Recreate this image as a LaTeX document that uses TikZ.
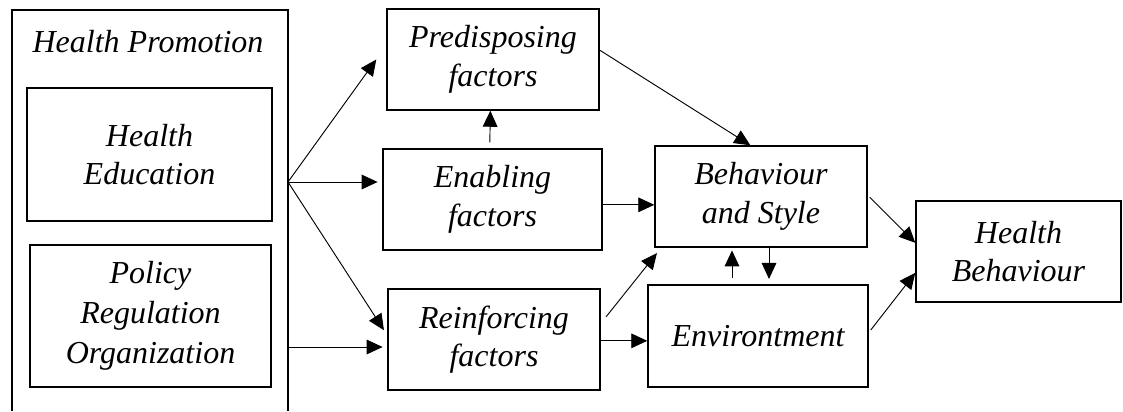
\documentclass[tikz,border=0pt]{standalone}
\usepackage{fontspec}
\setmainfont{Liberation Serif}
\usetikzlibrary{arrows.meta}
\begin{document}
\begin{tikzpicture}[x=0.75pt,y=-0.75pt,
  txt/.style={inner sep=0pt, align=center, font=\fontsize{24}{29}\selectfont\itshape},
  box/.style={txt, draw, line width=1.1pt},
  arr/.style={-{Triangle[length=12pt,width=11pt]}, line width=0.7pt}]
\useasboundingbox (0,0) rectangle (1123,411);

% outer Health Promotion frame (open at the bottom)
\coordinate (hpbl) at (12,411);
\coordinate (hptl) at (12,10);
\coordinate (hptr) at (288,10);
\coordinate (hpbr) at (288,411);
\draw[line width=1.1pt] (hpbl) -- (hptl) -- (hptr) -- (hpbr);
\node[txt] (hp) at (148,42) {Health Promotion};

\node[box, minimum width={245*0.75pt}, minimum height={133*0.75pt}] (he) at (149.5,154.5) {Health\\Education};
\node[box, minimum width={241*0.75pt}, minimum height={142*0.75pt}, font=\fontsize{24}{30}\selectfont\itshape] (pol) at (150.5,316) {Policy\\Regulation\\Organization};

\node[box, minimum width={212*0.75pt}, minimum height={101*0.75pt}] (pre) at (493,59.5) {Predisposing\\factors};
\node[box, minimum width={219*0.75pt}, minimum height={101*0.75pt}] (ena) at (492.5,199.5) {Enabling\\factors};
\node[box, minimum width={212*0.75pt}, minimum height={101*0.75pt}] (rei) at (494,339.5) {Reinforcing\\factors};
\node[box, minimum width={212*0.75pt}, minimum height={101*0.75pt}] (beh) at (761,196.5) {Behaviour\\and Style};
\node[box, minimum width={220*0.75pt}, minimum height={102*0.75pt}] (env) at (758,336) {Environtment};
\node[box, minimum width={205*0.75pt}, minimum height={101*0.75pt}] (hb) at (1018.5,251.5) {Health\\Behaviour};

\coordinate (s) at (288,182);
\coordinate (s2) at (288,347);

\draw[arr] (s) -- ([xshift=-7.5pt]pre.west);
\draw[arr] (s) -- ([xshift=-3.5pt]s -| ena.west);
\draw[arr] (s) -- ([xshift=-2.5pt,yshift=7pt]rei.west);
\draw[arr] (s2) -- ([xshift=-3.5pt]s2 -| rei.west);

\draw[arr] ([xshift=-2pt,yshift=4.5pt]ena.north) -- ([xshift=-2pt]pre.south);
\draw[arr] ([yshift=7pt]pre.east) -- ([xshift=-8pt]beh.north);
\draw[arr] ([yshift=-4pt]ena.east) -- ([yshift=-4pt]ena.east -| beh.west);
\draw[arr] ([xshift=4pt,yshift=17pt]rei.east) -- ([xshift=2pt,yshift=-4pt]beh.south west);
\draw[arr] ([yshift=-1pt]rei.east) -- ([yshift=-1pt]rei.east -| env.west);

\draw[arr] ([xshift=-21.75pt,yshift=-22.5pt]beh.south) -- ([xshift=-21.75pt,yshift=-2pt]beh.south);
\draw[arr] ([xshift=6pt,yshift=1.5pt]beh.south) -- ([xshift=6pt,yshift=4pt]beh.south |- env.north);

\draw[arr] ([xshift=1.5pt,yshift=-0.5pt]beh.east) -- ([yshift=6.5pt]hb.west);
\draw[arr] ([xshift=1.5pt,yshift=4.5pt]env.east) -- ([yshift=-16pt]hb.west);
\end{tikzpicture}
\end{document}
